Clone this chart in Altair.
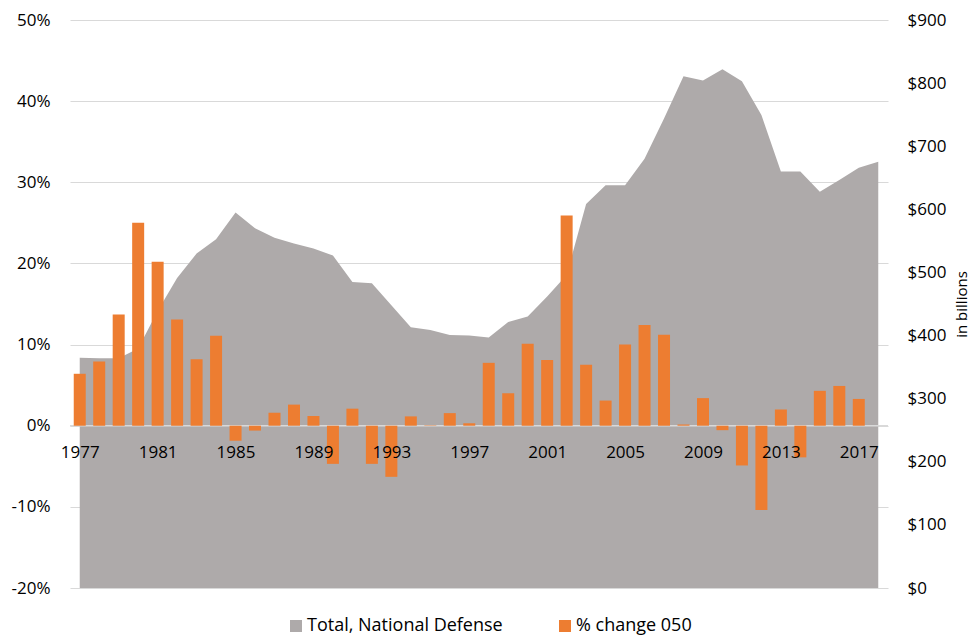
import altair as alt
import pandas as pd

years = list(range(1977, 2019))
total_defense = [365, 364, 364, 379.5, 439, 491, 530, 552.5, 595, 570, 555, 546, 538,
                 527, 485, 483, 448, 413, 409, 401, 400, 397, 421.5, 430, 462, 496,
                 608.5, 638, 638, 680, 744, 811, 804, 822, 803, 749.5, 660, 660, 628,
                 646.5, 666, 675.5]
bar_years = list(range(1977, 2018))
pct_change = [6.4, 7.9, 13.7, 25.0, 20.2, 13.1, 8.2, 11.1, -1.85, -0.6, 1.6, 2.6, 1.2,
              -4.7, 2.1, -4.7, -6.3, 1.15, 0.05, 1.55, 0.3, 7.75, 4.0, 10.1, 8.1, 25.9,
              7.5, 3.1, 10.0, 12.4, 11.2, 0.15, 3.4, -0.55, -4.9, -10.4, 2.0, -3.9, 4.3,
              4.9, 3.3]
x_label_years = [1977, 1981, 1985, 1989, 1993, 1997, 2001, 2005, 2009, 2013, 2017]
left_ticks = [-20, -10, 0, 10, 20, 30, 40, 50]
right_ticks = [0, 100, 200, 300, 400, 500, 600, 700, 800, 900]
series_names = ["Total, National Defense", "% change 050"]
series_colors = ["#AEAAAA", "#ED7D31"]

area_df = pd.DataFrame({"year": years, "total": total_defense,
                        "series": [series_names[0]] * len(years)})
bar_df = pd.DataFrame({"year": bar_years, "pct": pct_change,
                       "series": [series_names[1]] * len(bar_years)})
zero_df = pd.DataFrame({"v": [0]})

FONT = "Open Sans"
FS = 17
x_scale = alt.Scale(domain=[1976.5, 2018.5], nice=False, zero=False, padding=0)
color_scale = alt.Scale(domain=series_names, range=series_colors)
left_scale = alt.Scale(domain=[-20, 50], nice=False, zero=False)
legend = alt.Legend(title=None, orient="none", legendX=217, legendY=597,
                    direction="horizontal", symbolType="square",
                    symbolSize=144, symbolStrokeWidth=0,
                    labelFontSize=18, labelFont=FONT, labelLimit=0,
                    labelColor="#000000", columnPadding=53,
                    labelOffset=2)

area = alt.Chart(area_df).mark_area(opacity=1).encode(
    x=alt.X("year:Q", scale=x_scale,
            axis=alt.Axis(values=x_label_years, format="d", title=None, grid=False,
                          ticks=False, domain=False, labelFontSize=FS, labelFont=FONT,
                          labelColor="#000000", labelPadding=18, offset=-162, zindex=2,
                          labelFlush=False)),
    y=alt.Y("total:Q", scale=alt.Scale(domain=[0, 900], nice=False),
            axis=alt.Axis(orient="right", values=right_ticks, title="in billions",
                          titleAngle=270, titleFontSize=15, titleFont=FONT,
                          titleFontWeight="normal", titleColor="#000000", titlePadding=24,
                          labelExpr="'$' + datum.value", grid=False, ticks=False,
                          domain=False, labelFontSize=FS, labelFont=FONT,
                          labelColor="#000000", labelPadding=19)),
    color=alt.Color("series:N", scale=color_scale, legend=legend),
)

zero_rule = alt.Chart(zero_df).mark_rule(color="#D9D9D9", strokeWidth=1.5).encode(
    y=alt.Y("v:Q", scale=left_scale, axis=None),
)

bars = alt.Chart(bar_df).mark_bar(size=12).encode(
    x=alt.X("year:Q", scale=x_scale),
    y=alt.Y("pct:Q", scale=left_scale,
            axis=alt.Axis(orient="left", values=left_ticks, title=None,
                          labelExpr="datum.value + '%'", grid=True, gridColor="#D9D9D9",
                          gridWidth=1, ticks=False, domain=False, labelFontSize=FS,
                          labelFont=FONT, labelColor="#000000", labelPadding=20)),
    color=alt.Color("series:N", scale=color_scale, legend=legend),
)

chart = alt.layer(area, zero_rule, bars).resolve_scale(y="independent").properties(
    width=818, height=568,
    padding={"left": 62, "top": 12, "right": 83, "bottom": 49},
    autosize=alt.AutoSizeParams(type="none"),
).configure_view(stroke=None)

chart.save("out.html", embed_options={"renderer": "svg", "actions": False})
